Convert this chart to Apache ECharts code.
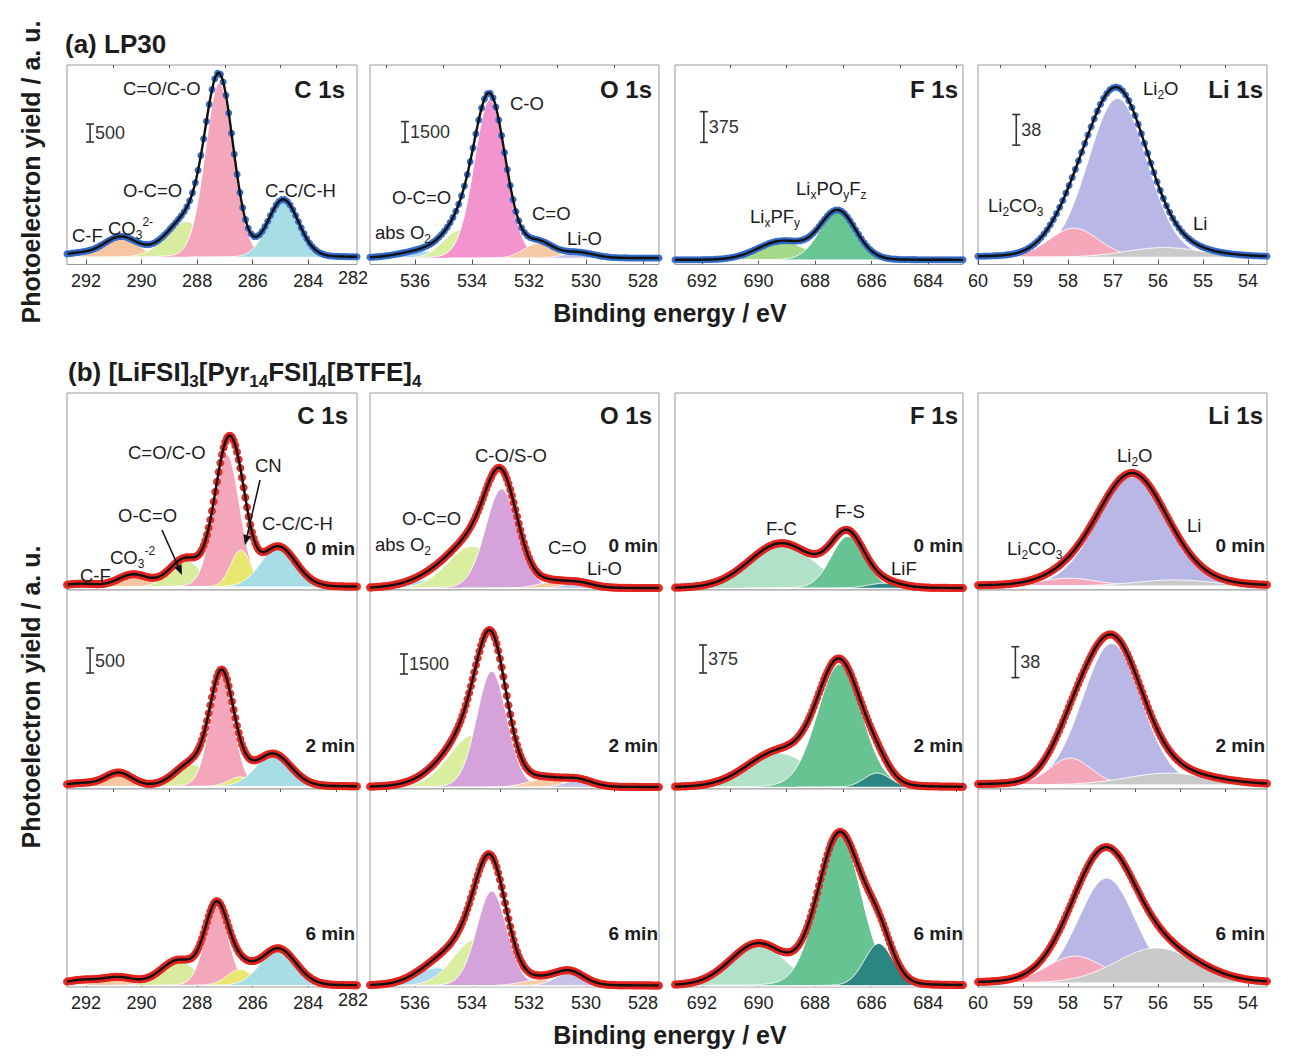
<!DOCTYPE html>
<html>
<head>
<meta charset="utf-8">
<script src="https://cdn.jsdelivr.net/npm/echarts@6/dist/echarts.min.js"></script>
<style>
html,body{margin:0;padding:0;background:#fff;}
#chart{width:1289px;height:1062px;}
</style>
</head>
<body>
<div id="chart"></div>
<script>
// ================= DATA =================
// tick labels (binding energy, eV)
const c1sTicks  = [292, 290, 288, 286, 284];
const o1sTicks  = [536, 534, 532, 530, 528];
const f1sTicks  = [692, 690, 688, 686, 684];
const li1sTicks = [60, 59, 58, 57, 56, 55, 54];
const c1sMinor  = [291, 289, 287, 285, 283];
const o1sMinor  = [537, 535, 533, 531, 529];
const f1sMinor  = [691, 689, 687, 685, 683];
const li1sMinor = [59.5, 58.5, 57.5, 56.5, 55.5, 54.5];
// intensity scale bars (counts)
const scaleBars = [500, 1500, 375, 38];

// ---- (a) LP30 : peak centre (eV), peak height (counts), FWHM (eV), background (counts)
// (components listed in drawing order, back to front)
const lpC1sNames  = ['C-F', 'CO3 2-', 'O-C=O', 'C=O/C-O', 'C-C/C-H'];
const lpC1sCenter = [292.3, 290.75, 288.4, 287.2, 284.9];
const lpC1sHeight = [95, 550, 990, 4850, 1580];
const lpC1sFwhm   = [1.4, 1.45, 1.7, 1.2, 1.3];
const lpC1sBg     = 200;

const lpO1sNames  = ['abs O2', 'O-C=O', 'C-O', 'C=O', 'Li-O'];
const lpO1sCenter = [535.65, 534.42, 533.37, 531.67, 530.28];
const lpO1sHeight = [500, 2030, 11500, 1090, 380];
const lpO1sFwhm   = [2.0, 1.4, 1.3, 1.2, 1.3];
const lpO1sBg     = 450;

const lpF1sNames  = ['LixPFy', 'LixPOyFz'];
const lpF1sCenter = [689.19, 687.19];
const lpF1sHeight = [225, 595];
const lpF1sFwhm   = [2.0, 1.5];
const lpF1sBg     = 55;

const lpLi1sNames  = ['Li2O', 'Li2CO3', 'Li'];
const lpLi1sCenter = [56.9, 57.87, 55.86];
const lpLi1sHeight = [197, 36, 12];
const lpLi1sFwhm   = [1.55, 1.3, 2.0];
const lpLi1sBg     = 9;

// ---- (b) [LiFSI]3[Pyr14FSI]4[BTFE]4 at 0, 2, 6 min
const ilC1sNames    = ['C-F', 'CO3 -2', 'O-C=O', 'C=O/C-O', 'CN', 'C-C/C-H'];
const ilC1sCenter0  = [292.2, 290.3, 288.44, 286.93, 286.43, 285.08];
const ilC1sHeight0  = [60, 240, 540, 2650, 740, 790];
const ilC1sFwhm0    = [1.3, 1.3, 1.3, 1.1, 0.85, 1.5];
const ilC1sBg0      = 60;
const ilC1sCenter2  = [292.2, 290.83, 288.2, 287.12, 286.46, 285.26];
const ilC1sHeight2  = [60, 270, 440, 2180, 190, 640];
const ilC1sFwhm2    = [1.3, 1.15, 1.4, 1.0, 1.0, 1.5];
const ilC1sBg2      = 50;
const ilC1sCenter6  = [292.2, 290.83, 288.68, 287.3, 286.46, 285.08];
const ilC1sHeight6  = [100, 155, 490, 1560, 320, 730];
const ilC1sFwhm6    = [1.4, 1.4, 1.5, 1.0, 1.1, 1.5];
const ilC1sBg6      = 30;

const ilO1sNames    = ['abs O2', 'O-C=O', 'C-O/S-O', 'C=O', 'Li-O'];
const ilO1sCenter0  = [535.42, 534.01, 532.96, 531.26, 530.27];
const ilO1sHeight0  = [640, 3150, 7450, 420, 380];
const ilO1sFwhm0    = [2.0, 2.0, 1.35, 1.2, 1.2];
const ilO1sBg0      = 130;
const ilO1sCenter2  = [535.12, 533.96, 533.31, 531.44, 530.27];
const ilO1sHeight2  = [640, 3900, 8700, 600, 500];
const ilO1sFwhm2    = [2.0, 2.0, 1.25, 1.5, 1.2];
const ilO1sBg2      = 130;
const ilO1sCenter6  = [535.24, 533.9, 533.31, 531.6, 530.56];
const ilO1sHeight6  = [1330, 3450, 7100, 450, 975];
const ilO1sFwhm6    = [1.8, 1.8, 1.25, 1.5, 1.2];
const ilO1sBg6      = 100;

const ilF1sNames    = ['F-C', 'F-S', 'LiF'];
const ilF1sCenter0  = [689.19, 686.84, 685.54];
const ilF1sHeight0  = [600, 695, 67];
const ilF1sFwhm0    = [2.7, 1.4, 1.4];
const ilF1sBg0      = 23;
const ilF1sCenter2  = [689.31, 687.13, 685.8];
const ilF1sHeight2  = [460, 1650, 190];
const ilF1sFwhm2    = [2.6, 1.85, 1.1];
const ilF1sBg2      = 23;
const ilF1sCenter6  = [690.02, 687.13, 685.75];
const ilF1sHeight6  = [555, 2030, 565];
const ilF1sFwhm6    = [2.3, 1.8, 1.2];
const ilF1sBg6      = 17;

const ilLi1sNames   = ['Li2O', 'Li2CO3', 'Li'];
const ilLi1sCenter0 = [56.59, 57.98, 55.64];
const ilLi1sHeight0 = [134, 9.5, 7.4];
const ilLi1sFwhm0   = [1.8, 1.5, 2.0];
const ilLi1sBg0     = 5;
const ilLi1sCenter2 = [57.03, 57.95, 55.78];
const ilLi1sHeight2 = [174, 33, 14.4];
const ilLi1sFwhm2   = [1.55, 1.1, 2.2];
const ilLi1sBg2     = 5;
const ilLi1sCenter6 = [57.14, 57.84, 56.04];
const ilLi1sHeight6 = [129, 33, 43];
const ilLi1sFwhm6   = [1.5, 1.5, 2.1];
const ilLi1sBg6     = 5;

// ================= STYLE / LAYOUT =================
const FONT = '"Liberation Sans", Arial, Helvetica, sans-serif';
const TXT = '#1c1c1c';
const ETA = 0.08; // Lorentzian fraction of the Gaussian-Lorentzian peak shape

const C1S_A = ['#f8dcc6', '#f5c6a1', '#d9eb9f', '#f4a7bb', '#a7dde4'];
const C1S_B = ['#f8dcc6', '#f5c6a1', '#d9eb9f', '#f4a7bb', '#e9e76f', '#a7dde4'];
const O1S_A = ['#aed9f2', '#d9ee9e', '#f394cf', '#f7c9a4', '#c6c1e7'];
const O1S_B = ['#aed9f2', '#d9ee9e', '#d5a2da', '#f7c9a4', '#c6c1e7'];
const F1S_A = ['#a6da8b', '#67c493'];
const F1S_B = ['#b2e1ca', '#67c392', '#2b8580'];
const LI1S  = ['#b9b7e5', '#f5a8ba', '#c9c9c9'];
const BLUE = '#2f66c4', RED = '#e3241f';

const COLS = [
  {left: 67,  width: 290, range: [282.25, 292.68], ticks: c1sTicks,  minor: c1sMinor,  dotStep: 0.1},
  {left: 370, width: 289, range: [527.44, 537.58], ticks: o1sTicks,  minor: o1sMinor,  dotStep: 0.1},
  {left: 675, width: 288, range: [682.77, 692.95], ticks: f1sTicks,  minor: f1sMinor,  dotStep: 0.1},
  {left: 978, width: 289, range: [53.58, 60.0],    ticks: li1sTicks, minor: li1sMinor, dotStep: 0.07}
];
// counts per pixel, from the scale bars
const PER_PX_A = [27.8, 72.5, 12.2, 1.24];
const PER_PX_B = [20, 75, 13.4, 1.23];

const ROW_A = {top: 65, height: 199.5};
const ROWS_B = [{top: 393, height: 197}, {top: 590, height: 199}, {top: 789, height: 198}];

const panels = [
  {col: 0, row: ROW_A, f: PER_PX_A[0], c: lpC1sCenter,  h: lpC1sHeight,  w: lpC1sFwhm,  bg: lpC1sBg,  colors: C1S_A, dot: BLUE, axis: true, bar: [291.85, 3405]},
  {col: 1, row: ROW_A, f: PER_PX_A[1], c: lpO1sCenter,  h: lpO1sHeight,  w: lpO1sFwhm,  bg: lpO1sBg,  colors: O1S_A, dot: BLUE, axis: true, bar: [536.35, 8860]},
  {col: 2, row: ROW_A, f: PER_PX_A[2], c: lpF1sCenter,  h: lpF1sHeight,  w: lpF1sFwhm,  bg: lpF1sBg,  colors: F1S_A, dot: BLUE, axis: true, bar: [691.93, 1490]},
  {col: 3, row: ROW_A, f: PER_PX_A[3], c: lpLi1sCenter, h: lpLi1sHeight, w: lpLi1sFwhm, bg: lpLi1sBg, colors: LI1S,  dot: BLUE, axis: true, bar: [59.15, 148]},

  {col: 0, row: ROWS_B[0], f: PER_PX_B[0], c: ilC1sCenter0,  h: ilC1sHeight0,  w: ilC1sFwhm0,  bg: ilC1sBg0,  colors: C1S_B, dot: RED},
  {col: 1, row: ROWS_B[0], f: PER_PX_B[1], c: ilO1sCenter0,  h: ilO1sHeight0,  w: ilO1sFwhm0,  bg: ilO1sBg0,  colors: O1S_B, dot: RED},
  {col: 2, row: ROWS_B[0], f: PER_PX_B[2], c: ilF1sCenter0,  h: ilF1sHeight0,  w: ilF1sFwhm0,  bg: ilF1sBg0,  colors: F1S_B, dot: RED},
  {col: 3, row: ROWS_B[0], f: PER_PX_B[3], c: ilLi1sCenter0, h: ilLi1sHeight0, w: ilLi1sFwhm0, bg: ilLi1sBg0, colors: LI1S,  dot: RED},

  {col: 0, row: ROWS_B[1], f: PER_PX_B[0], c: ilC1sCenter2,  h: ilC1sHeight2,  w: ilC1sFwhm2,  bg: ilC1sBg2,  colors: C1S_B, dot: RED, bar: [291.85, 2320]},
  {col: 1, row: ROWS_B[1], f: PER_PX_B[1], c: ilO1sCenter2,  h: ilO1sHeight2,  w: ilO1sFwhm2,  bg: ilO1sBg2,  colors: O1S_B, dot: RED, bar: [536.39, 8625]},
  {col: 2, row: ROWS_B[1], f: PER_PX_B[2], c: ilF1sCenter2,  h: ilF1sHeight2,  w: ilF1sFwhm2,  bg: ilF1sBg2,  colors: F1S_B, dot: RED, bar: [691.96, 1555]},
  {col: 3, row: ROWS_B[1], f: PER_PX_B[3], c: ilLi1sCenter2, h: ilLi1sHeight2, w: ilLi1sFwhm2, bg: ilLi1sBg2, colors: LI1S,  dot: RED, bar: [59.17, 137]},

  {col: 0, row: ROWS_B[2], f: PER_PX_B[0], c: ilC1sCenter6,  h: ilC1sHeight6,  w: ilC1sFwhm6,  bg: ilC1sBg6,  colors: C1S_B, dot: RED, axis: true},
  {col: 1, row: ROWS_B[2], f: PER_PX_B[1], c: ilO1sCenter6,  h: ilO1sHeight6,  w: ilO1sFwhm6,  bg: ilO1sBg6,  colors: O1S_B, dot: RED, axis: true},
  {col: 2, row: ROWS_B[2], f: PER_PX_B[2], c: ilF1sCenter6,  h: ilF1sHeight6,  w: ilF1sFwhm6,  bg: ilF1sBg6,  colors: F1S_B, dot: RED, axis: true},
  {col: 3, row: ROWS_B[2], f: PER_PX_B[3], c: ilLi1sCenter6, h: ilLi1sHeight6, w: ilLi1sFwhm6, bg: ilLi1sBg6, colors: LI1S,  dot: RED, axis: true}
];

// Gaussian-Lorentzian line shape for a fitted component
function peak(E, c, h, w) {
  const d = (E - c) / (w / 2);
  return h * ((1 - ETA) * Math.exp(-Math.LN2 * d * d) + ETA / (1 + d * d));
}
function envelope(p, E) {
  let s = p.bg;
  for (let k = 0; k < p.c.length; k++) s += peak(E, p.c[k], p.h[k], p.w[k]);
  return s;
}
function sampleRange(lo, hi, step) {
  const n = Math.max(1, Math.round((hi - lo) / step));
  const out = [];
  for (let i = 0; i <= n; i++) out.push(lo + (hi - lo) * i / n);
  return out;
}

const grids = [], xAxes = [], yAxes = [], series = [];
const minorAxes = [];

panels.forEach((p, i) => {
  const col = COLS[p.col];
  const xr = col.range;
  grids.push({
    left: col.left, top: p.row.top, width: col.width, height: p.row.height,
    show: true, borderColor: '#9a9a9a', borderWidth: 1, backgroundColor: '#fff'
  });
  const inside = v => v >= Math.min(xr[0], xr[1]) - 1e-6 && v <= Math.max(xr[0], xr[1]) + 1e-6;
  xAxes.push({
    gridIndex: i, type: 'value', min: xr[0], max: xr[1], inverse: true,
    show: !!p.axis,
    axisLine: {show: false},
    splitLine: {show: false},
    axisTick: {show: !!p.axis, inside: true, length: 5, customValues: col.ticks.filter(inside),
               lineStyle: {color: '#555', width: 1}},
    axisLabel: {show: !!p.axis, customValues: col.ticks.filter(inside), margin: 7,
                fontFamily: FONT, fontSize: 18, color: '#222'}
  });
  if (p.axis) minorAxes.push({
    gridIndex: i, type: 'value', min: xr[0], max: xr[1], inverse: true,
    axisLine: {show: false}, splitLine: {show: false}, axisLabel: {show: false},
    axisTick: {show: true, inside: true, length: 3, customValues: col.minor.filter(inside),
               lineStyle: {color: '#555', width: 1}}
  });
  const ymax = p.row.height * p.f;
  yAxes.push({gridIndex: i, type: 'value', min: 0, max: ymax, show: false, splitLine: {show: false}});

  // filled components
  series.push({
    type: 'custom', xAxisIndex: i, yAxisIndex: i, coordinateSystem: 'cartesian2d', z: 2,
    silent: true, clip: true,
    data: p.c.map((_, k) => [xr[0], p.bg, k]),
    renderItem: (params, api) => {
      const k = api.value(2);
      const lo = Math.max(xr[0], p.c[k] - 2.6 * p.w[k]);
      const hi = Math.min(xr[1], p.c[k] + 2.6 * p.w[k]);
      const pts = sampleRange(lo, hi, 0.02).map(E => api.coord([E, p.bg + peak(E, p.c[k], p.h[k], p.w[k])]));
      pts.push(api.coord([hi, p.bg]));
      pts.push(api.coord([lo, p.bg]));
      return {type: 'polygon', shape: {points: pts},
              style: {fill: p.colors[k], stroke: '#ffffff', lineWidth: 1}};
    }
  });
  // measured points
  series.push({
    type: 'scatter', xAxisIndex: i, yAxisIndex: i, z: 3, silent: true,
    symbolSize: p.dot === BLUE ? 7 : 8,
    itemStyle: {color: p.dot, opacity: 0.95},
    data: sampleRange(xr[0], xr[1], p.dot === BLUE ? col.dotStep : col.dotStep * 0.6).map(E => [E, envelope(p, E)])
  });
  // fit envelope
  series.push({
    type: 'line', xAxisIndex: i, yAxisIndex: i, z: 4, silent: true,
    showSymbol: false, symbol: 'none',
    lineStyle: {color: '#111', width: 2.4},
    data: sampleRange(xr[0], xr[1], 0.025).map(E => [E, envelope(p, E)])
  });
  // scale bar
  if (p.bar) {
    const barVal = scaleBars[p.col];
    series.push({
      type: 'custom', xAxisIndex: i, yAxisIndex: i, coordinateSystem: 'cartesian2d', z: 5, silent: true,
      data: [[p.bar[0], p.bar[1], barVal]],
      renderItem: (params, api) => {
        const a = api.coord([api.value(0), api.value(1)]);
        const b = api.coord([api.value(0), api.value(1) + api.value(2)]);
        const ls = {stroke: '#333', lineWidth: 1.6};
        return {type: 'group', children: [
          {type: 'line', shape: {x1: a[0], y1: a[1], x2: b[0], y2: b[1]}, style: ls},
          {type: 'line', shape: {x1: a[0] - 4, y1: a[1], x2: a[0] + 4, y2: a[1]}, style: ls},
          {type: 'line', shape: {x1: b[0] - 4, y1: b[1], x2: b[0] + 4, y2: b[1]}, style: ls},
          {type: 'text', style: {text: String(api.value(2)), x: a[0] + 5, y: (a[1] + b[1]) / 2,
            font: '18px ' + FONT, fill: '#333', align: 'left', verticalAlign: 'middle',
            textAlign: 'left', textVerticalAlign: 'middle'}}
        ]};
      }
    });
  }
});

// ================= TEXT ANNOTATIONS =================
function lab(x, y, text, o) {
  o = o || {};
  const size = o.size || 18.5, weight = o.weight || 'normal';
  const sub = Math.round(size * 0.66);
  const align = o.align || 'left';
  return {
    type: 'text', x: x, y: y, rotation: o.rotation || 0, silent: true, z: 100,
    style: {
      text: text, fill: o.color || TXT,
      font: weight + ' ' + size + 'px ' + FONT,
      fontSize: size, fontWeight: weight, fontFamily: FONT,
      align: align, verticalAlign: 'middle', textAlign: align, textVerticalAlign: 'middle',
      rich: {
        m: {fontSize: size, fontWeight: weight, fontFamily: FONT, fill: o.color || TXT, color: o.color || TXT,
            lineHeight: Math.round(size * 1.35), verticalAlign: 'middle'},
        b: {fontSize: sub, fontWeight: weight, fontFamily: FONT, fill: o.color || TXT, color: o.color || TXT,
            lineHeight: sub, verticalAlign: 'bottom'},
        p: {fontSize: sub, fontWeight: weight, fontFamily: FONT, fill: o.color || TXT, color: o.color || TXT,
            lineHeight: sub, verticalAlign: 'top'}
      }
    }
  };
}
const B24 = {size: 24, weight: 'bold', align: 'right'};
const B19 = {size: 19, weight: 'bold', align: 'right'};
function arrow(x1, y1, x2, y2) {
  const dx = x2 - x1, dy = y2 - y1, L = Math.hypot(dx, dy);
  const ux = dx / L, uy = dy / L, hl = 10, hw = 4;
  const bx = x2 - ux * hl, by = y2 - uy * hl;
  return [
    {type: 'line', silent: true, z: 100, shape: {x1: x1, y1: y1, x2: bx, y2: by}, style: {stroke: '#111', lineWidth: 1.5}},
    {type: 'polygon', silent: true, z: 100, shape: {points: [[x2, y2], [bx - uy * hw, by + ux * hw], [bx + uy * hw, by - ux * hw]]},
     style: {fill: '#111'}}
  ];
}

const graphics = [
  lab(65, 44, '(a) LP30', {size: 26, weight: 'bold'}),
  lab(68, 372, '{m|(b) [LiFSI]}{b|3}{m|[Pyr}{b|14}{m|FSI]}{b|4}{m|[BTFE]}{b|4}', {size: 26, weight: 'bold'}),
  lab(670, 313, 'Binding energy / eV', {size: 25, weight: 'bold', align: 'center'}),
  lab(670, 1035, 'Binding energy / eV', {size: 25, weight: 'bold', align: 'center'}),
  lab(31, 172, 'Photoelectron yield / a. u.', {size: 25, weight: 'bold', align: 'center', rotation: Math.PI / 2}),
  lab(31, 697, 'Photoelectron yield / a. u.', {size: 25, weight: 'bold', align: 'center', rotation: Math.PI / 2}),
  lab(353, 278, '282', {size: 18, align: 'center', color: '#222'}),
  lab(353, 1000, '282', {size: 18, align: 'center', color: '#222'}),

  // (a) C 1s
  lab(345, 89, 'C 1s', B24),
  lab(123, 88, 'C=O/C-O'),
  lab(123, 190, 'O-C=O'),
  lab(265, 190, 'C-C/C-H'),
  lab(72, 235, 'C-F'),
  lab(108, 228, '{m|CO}{b|3}{p|2-}'),
  // (a) O 1s
  lab(652, 89, 'O 1s', B24),
  lab(510, 103, 'C-O'),
  lab(392, 197, 'O-C=O'),
  lab(375, 232, '{m|abs O}{b|2}'),
  lab(532, 213, 'C=O'),
  lab(567, 238, 'Li-O'),
  // (a) F 1s
  lab(958, 89, 'F 1s', B24),
  lab(796, 188, '{m|Li}{b|x}{m|PO}{b|y}{m|F}{b|z}'),
  lab(750, 216, '{m|Li}{b|x}{m|PF}{b|y}'),
  // (a) Li 1s
  lab(1263, 89, 'Li 1s', B24),
  lab(1143, 88, '{m|Li}{b|2}{m|O}'),
  lab(988, 205, '{m|Li}{b|2}{m|CO}{b|3}'),
  lab(1193, 223, 'Li'),

  // (b) 0 min row
  lab(348, 415, 'C 1s', B24),
  lab(128, 452, 'C=O/C-O'),
  lab(255, 465, 'CN'),
  lab(118, 515, 'O-C=O'),
  lab(262, 523, 'C-C/C-H'),
  lab(110, 557, '{m|CO}{b|3}{p|-2}'),
  lab(80, 575, 'C-F'),
  lab(652, 415, 'O 1s', B24),
  lab(475, 455, 'C-O/S-O'),
  lab(402, 518, 'O-C=O'),
  lab(375, 544, '{m|abs O}{b|2}'),
  lab(548, 547, 'C=O'),
  lab(587, 568, 'Li-O'),
  lab(958, 415, 'F 1s', B24),
  lab(766, 528, 'F-C'),
  lab(835, 511, 'F-S'),
  lab(891, 568, 'LiF'),
  lab(1263, 415, 'Li 1s', B24),
  lab(1117, 455, '{m|Li}{b|2}{m|O}'),
  lab(1187, 525, 'Li'),
  lab(1007, 548, '{m|Li}{b|2}{m|CO}{b|3}'),
  lab(355, 548, '0 min', B19),
  lab(658, 545, '0 min', B19),
  lab(963, 545, '0 min', B19),
  lab(1265, 545, '0 min', B19),
  lab(355, 745, '2 min', B19),
  lab(658, 745, '2 min', B19),
  lab(963, 745, '2 min', B19),
  lab(1265, 745, '2 min', B19),
  lab(355, 933, '6 min', B19),
  lab(658, 933, '6 min', B19),
  lab(963, 933, '6 min', B19),
  lab(1265, 933, '6 min', B19)
].concat(arrow(260, 480, 245, 545), arrow(162, 530, 182, 575));

const chart = echarts.init(document.getElementById('chart'), null, {renderer: 'svg'});
chart.setOption({
  animation: false,
  backgroundColor: '#ffffff',
  grid: grids,
  xAxis: xAxes.concat(minorAxes),
  yAxis: yAxes,
  series: series,
  graphic: {elements: graphics}
});
</script>
</body>
</html>
